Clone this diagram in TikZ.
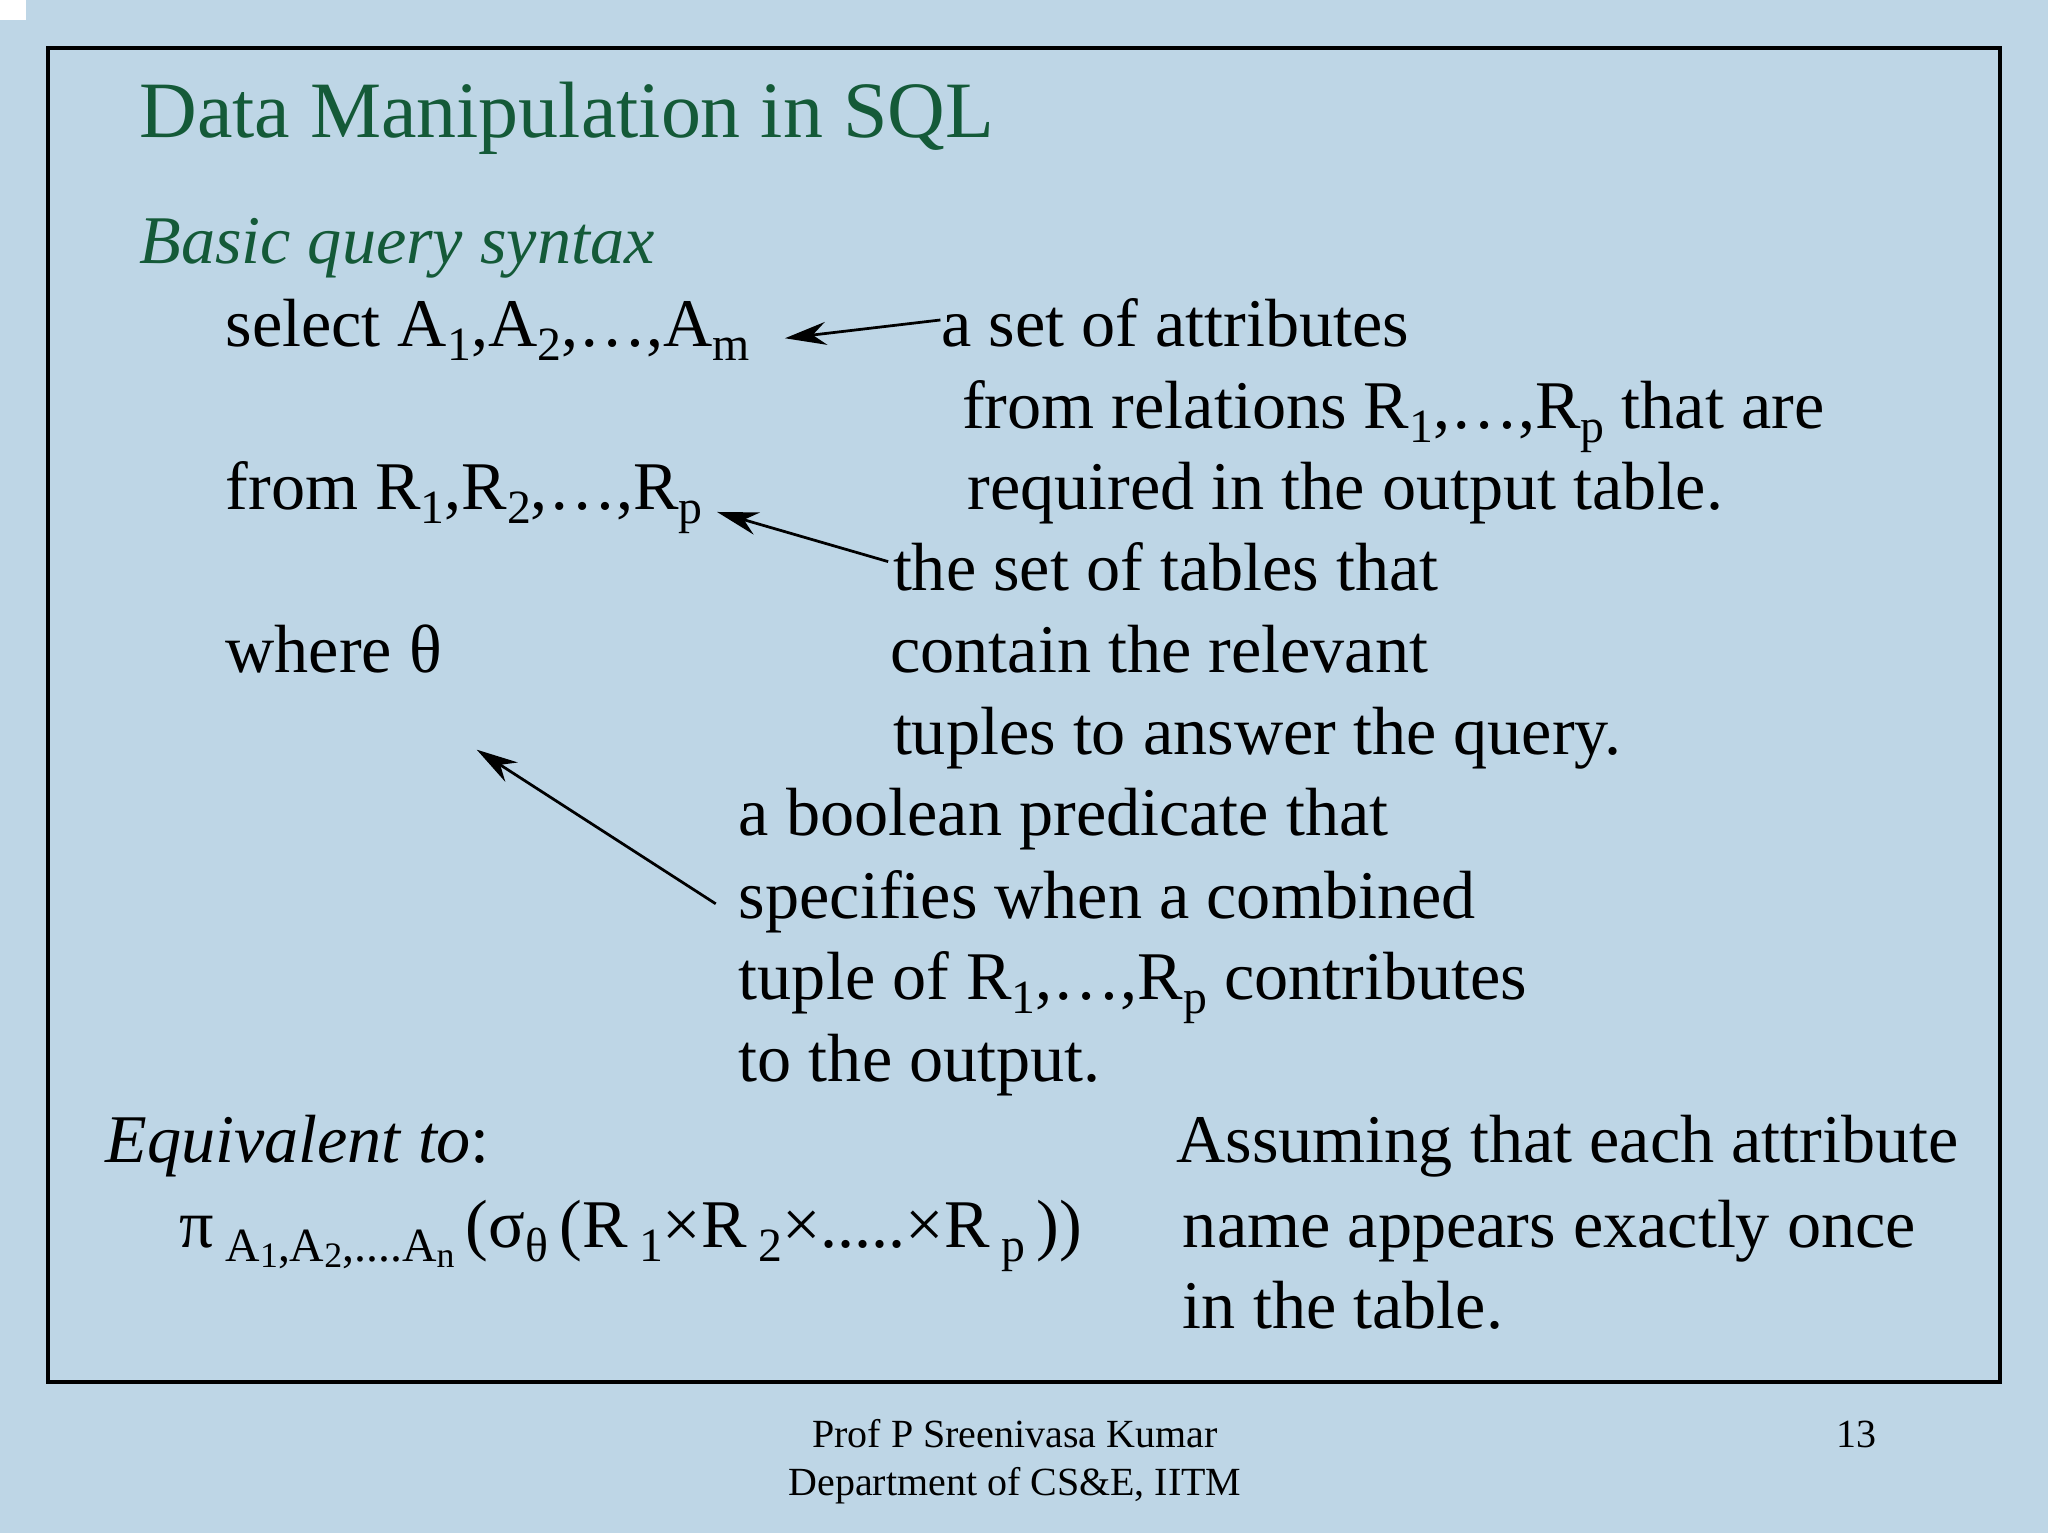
\documentclass[tikz,border=0pt]{standalone}
\usepackage{fontspec}
\setmainfont{Liberation Serif}
\usetikzlibrary{arrows.meta}
\definecolor{bg}{HTML}{BED6E6}
\definecolor{ttl}{HTML}{145A38}
\newcommand{\sbs}[1]{\raisebox{-0.45ex}{\scalebox{0.7}{#1}}}
\newcommand{\ssbs}[1]{\raisebox{-0.3ex}{\scalebox{0.75}{#1}}}
\tikzset{
  t/.style={anchor=base west,inner sep=0pt,font=\fontsize{14.85pt}{18pt}\selectfont},
  arr/.style={-{Stealth[length=9pt,width=5pt]},line width=0.6pt},
  foot/.style={anchor=base,inner sep=0pt,font=\fontsize{8.7pt}{10pt}\selectfont}
}
\begin{document}
\begin{tikzpicture}[x=0.01cm,y=-0.01cm]
\fill[bg] (0,0) rectangle (1568,1174);
\fill[white] (0,0) rectangle (20,15);
\useasboundingbox (0,0) rectangle (1568,1174);
\draw[line width=0.8pt] (37,37) rectangle (1531,1058);
\node[t,text=ttl,font=\fontsize{17.4pt}{22pt}\selectfont] (title) at (106,105) {Data Manipulation in SQL};
\node[t,text=ttl] (basic) at (106,202) {\itshape Basic query syntax};
\node[t] (sel) at (172,265) {select A\sbs{1},A\sbs{2},…,A\sbs{m}};
\node[t] (from) at (172,390) {from R\sbs{1},R\sbs{2},…,R\sbs{p}};
\node[t] (where) at (172,515) {where θ};
\node[t] (c1) at (720,265) {a set of attributes};
\node[t] (c2) at (736,328) {from relations R\sbs{1},…,R\sbs{p} that are};
\node[t] (c3) at (740,390) {required in the output table.};
\node[t] (d1) at (683,452) {the set of tables that};
\node[t] (d2) at (681,515) {contain the relevant};
\node[t] (d3) at (683,578) {tuples to answer the query.};
\node[t] (e1) at (565,640) {a boolean predicate that};
\node[t] (e2) at (565,703) {specifies when a combined};
\node[t] (e3) at (565,765) {tuple of R\sbs{1},…,R\sbs{p} contributes};
\node[t] (e4) at (565,828) {to the output.};
\node[t] (eq) at (80,890) {\itshape Equivalent to\upshape:};
\node[t] (form) at (137,955) {π\,\sbs{A\ssbs{1},A\ssbs{2},....A\ssbs{n}}\,(σ\sbs{θ}\,(R\,\sbs{1}×R\,\sbs{2}×.....×R\,\sbs{p}\,))};
\node[t] (f1) at (900,890) {Assuming that each attribute};
\node[t] (f2) at (905,955) {name appears exactly once};
\node[t] (f3) at (905,1017) {in the table.};
\coordinate (a1s) at (720,245); \coordinate (a1e) at (601,259);
\coordinate (a2s) at (680,430); \coordinate (a2e) at (549,392);
\coordinate (a3s) at (548,692); \coordinate (a3e) at (365,574);
\draw[arr] (a1s) -- (a1e);
\draw[arr] (a2s) -- (a2e);
\draw[arr] (a3s) -- (a3e);
\node[foot] (ft1) at (777,1108) {Prof P Sreenivasa Kumar};
\node[foot] (ft2) at (777,1145) {Department of CS\&E, IITM};
\node[foot] (pg) at (1421,1108) {13};
\end{tikzpicture}
\end{document}
